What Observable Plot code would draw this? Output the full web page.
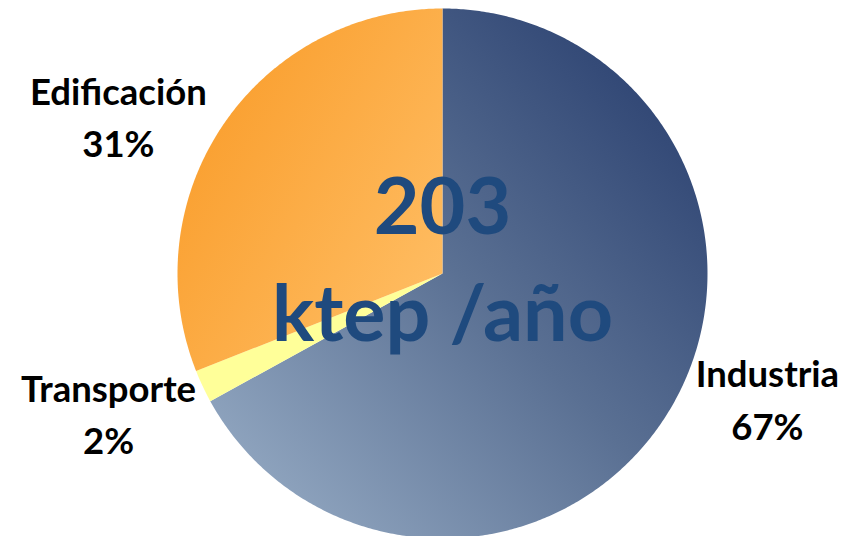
<!DOCTYPE html>
<html>
<head>
<meta charset="utf-8">
<script src="https://cdn.jsdelivr.net/npm/d3@7"></script>
<script src="https://cdn.jsdelivr.net/npm/@observablehq/plot@0.6"></script>
<style>
  html, body { margin: 0; padding: 0; background: #ffffff; }
  #chart svg { display: block; }
</style>
</head>
<body>
<div id="chart"></div>
<script>
// ---- data ----
const categories = ["Industria", "Transporte", "Edificación"];
const shares = [67, 2, 31];
const centerTitle = ["203", "ktep /año"];

// ---- layout (unit-radius pie coordinates) ----
const W = 846, H = 536;
const cx = 442, cy = 273, R = 265;
const labelPos = [[1.226, 0.465], [-1.26, 0.52], [-1.223, -0.60]];
const fills = ["url(#gInd)", "#ffff99", "url(#gEdi)"];

const rows = categories.map((c, i) => ({category: c, value: shares[i], fill: fills[i]}));
const arcs = d3.pie().sort(null).value(d => d.value)(rows);

function slicePolygon(a) {
  const pts = [[0, 0]];
  const n = Math.max(4, Math.ceil((a.endAngle - a.startAngle) / (Math.PI / 360)));
  for (let k = 0; k <= n; k++) {
    const t = a.startAngle + (a.endAngle - a.startAngle) * k / n;
    pts.push([Math.sin(t), -Math.cos(t)]);
  }
  pts.push([0, 0]);
  return {type: "Feature", properties: a.data, geometry: {type: "Polygon", coordinates: [pts]}};
}
const features = arcs.map(slicePolygon);

const frameBox = {type: "Polygon", coordinates: [[
  [-cx / R, -cy / R], [(W - cx) / R, -cy / R], [(W - cx) / R, (H - cy) / R], [-cx / R, (H - cy) / R], [-cx / R, -cy / R]
]]};

const labels = rows.map((d, i) => ({text: `${d.category}\n${d.value}%`, x: labelPos[i][0], y: labelPos[i][1]}));

const chart = Plot.plot({
  width: W,
  height: H,
  margin: 0,
  inset: 0,
  projection: {type: "identity", domain: frameBox},
  color: {type: "identity"},
  marks: [
    Plot.geo(features, {fill: d => d.properties.fill, stroke: "none"}),
    Plot.text(labels, {
      x: "x", y: "y", text: "text",
      fontSize: 36.5, fontWeight: "bold", fill: "#000000",
      lineHeight: 1.43, lineAnchor: "middle", textAnchor: "middle",
      fontFamily: "Lato, 'Open Sans', sans-serif"
    }),
    Plot.text([centerTitle.join("\n")], {
      x: 0, y: -0.076, text: d => d,
      fontSize: 79, fontWeight: "bold", fill: "#1f4a7e",
      lineHeight: 1.36, lineAnchor: "middle", textAnchor: "middle",
      fontFamily: "Lato, 'Open Sans', sans-serif",
      ariaLabel: "center-title"
    })
  ]
});

// gradients for slices
const ns = "http://www.w3.org/2000/svg";
const defs = document.createElementNS(ns, "defs");
defs.innerHTML = `
  <linearGradient id="gInd" x1="1" y1="0" x2="0" y2="1">
    <stop offset="0" stop-color="#22386a"/>
    <stop offset="0.5" stop-color="#5a7093"/>
    <stop offset="1" stop-color="#9cb1c9"/>
  </linearGradient>
  <linearGradient id="gEdi" x1="0" y1="0.1" x2="1" y2="0.9">
    <stop offset="0" stop-color="#f99a26"/>
    <stop offset="1" stop-color="#ffbf66"/>
  </linearGradient>
  <filter id="tshadow" x="-10%" y="-10%" width="130%" height="130%">
    <feGaussianBlur in="SourceAlpha" stdDeviation="2.2"/>
    <feOffset dx="2" dy="3" result="b"/>
    <feFlood flood-color="#000" flood-opacity="0.35"/>
    <feComposite in2="b" operator="in"/>
    <feMerge><feMergeNode/><feMergeNode in="SourceGraphic"/></feMerge>
  </filter>`;
chart.insertBefore(defs, chart.firstChild);
d3.select(chart).selectAll('g[aria-label="center-title"]').attr("filter", "url(#tshadow)");

document.getElementById("chart").appendChild(chart);
</script>
</body>
</html>
